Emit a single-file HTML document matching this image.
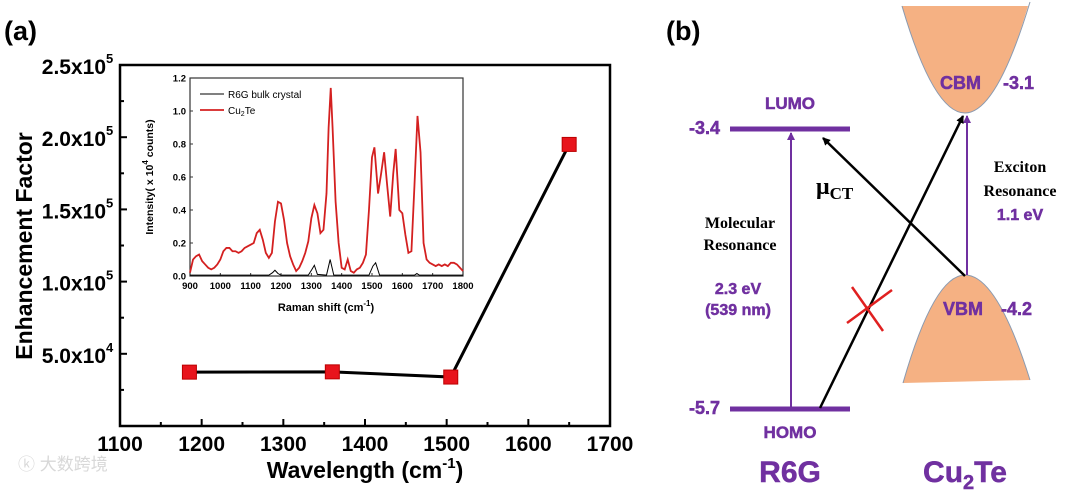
<!DOCTYPE html>
<html><head><meta charset="utf-8"><style>
html,body{margin:0;padding:0;background:#fff;}
svg{display:block;font-family:"Liberation Sans",Arial,sans-serif;}
</style></head><body>
<svg id="fig" width="1080" height="490" viewBox="0 0 1080 490" xmlns="http://www.w3.org/2000/svg">
<text x="4" y="40" font-size="27" font-weight="bold">(a)</text>
<text x="666" y="40" font-size="27" font-weight="bold">(b)</text>
<text x="18" y="470" font-size="17" fill="#d8d8d8" font-family="'Liberation Sans','Noto Sans CJK SC',sans-serif">ⓚ 大数跨境</text>
<g id="main"></g>
<g id="inset"></g>

<g>
  <defs>
    <marker id="ab" markerWidth="8" markerHeight="8" refX="7" refY="4" orient="auto" markerUnits="userSpaceOnUse"><path d="M0,0 L8,4 L0,8 z" fill="#000"/></marker>
    <marker id="ap" markerWidth="8" markerHeight="8" refX="7" refY="4" orient="auto" markerUnits="userSpaceOnUse"><path d="M0,0 L8,4 L0,8 z" fill="#7030a0"/></marker>
  </defs>
  <path d="M902,6 Q933.5,113 965,113 Q996.5,113 1028,6 Z" fill="#f5b183"/>
  <path d="M902,6 Q933.5,113 965,113 Q996.5,113 1030,2" fill="none" stroke="#8a9ab0" stroke-width="1"/>
  <path d="M903,383 Q934,275 965,275 Q997,275 1030,380 Z" fill="#f5b183"/>
  <path d="M903,383 Q934,275 965,275 Q997,275 1030,380" fill="none" stroke="#8a9ab0" stroke-width="1"/>
  <line x1="730" y1="129" x2="850" y2="129" stroke="#7030a0" stroke-width="5"/>
  <line x1="730" y1="409" x2="850" y2="409" stroke="#7030a0" stroke-width="5"/>
  <line x1="791" y1="407" x2="791" y2="133" stroke="#7030a0" stroke-width="2" marker-end="url(#ap)"/>
  <line x1="967" y1="275" x2="967" y2="116" stroke="#7030a0" stroke-width="2" marker-end="url(#ap)"/>
  <line x1="820" y1="408" x2="963" y2="116" stroke="#000" stroke-width="2.5" marker-end="url(#ab)"/>
  <line x1="965" y1="276" x2="823" y2="138" stroke="#000" stroke-width="2.5" marker-end="url(#ab)"/>
  <line x1="852" y1="287" x2="883" y2="331" stroke="#e02020" stroke-width="2.5"/>
  <line x1="847" y1="323" x2="892" y2="290" stroke="#e02020" stroke-width="2.5"/>
  <g fill="#7030a0" font-weight="bold" stroke="#7030a0" stroke-width="0.5">
    <text x="720" y="134" font-size="18" text-anchor="end">-3.4</text>
    <text x="720" y="414" font-size="18" text-anchor="end">-5.7</text>
    <text x="790" y="109" font-size="17" text-anchor="middle">LUMO</text>
    <text x="790" y="438" font-size="17" text-anchor="middle">HOMO</text>
    <text x="738" y="294" font-size="16" text-anchor="middle">2.3 eV</text>
    <text x="738" y="315" font-size="16" text-anchor="middle">(539 nm)</text>
    <text x="1020" y="220" font-size="16" text-anchor="middle">1.1 eV</text>
    <text x="940" y="89" font-size="18">CBM</text>
    <text x="1003" y="89" font-size="18">-3.1</text>
    <text x="943" y="315" font-size="18">VBM</text>
    <text x="1001" y="315" font-size="18">-4.2</text>
    <text x="790" y="482" font-size="30" text-anchor="middle">R6G</text>
    <text x="965" y="482" font-size="30" text-anchor="middle">Cu<tspan font-size="20" dy="7">2</tspan><tspan dy="-7">Te</tspan></text>
  </g>
  <g font-family="'Liberation Serif',serif" font-weight="bold" font-size="16" fill="#000">
    <text x="740" y="228" text-anchor="middle">Molecular</text>
    <text x="740" y="250" text-anchor="middle">Resonance</text>
    <text x="1020" y="172" text-anchor="middle">Exciton</text>
    <text x="1020" y="196" text-anchor="middle">Resonance</text>
    <text x="816" y="194" font-size="24">μ<tspan font-size="17" dy="5">CT</tspan></text>
  </g>
</g>
</svg>
<script>
// main chart data
const efWavenumbers = [1185, 1360, 1505, 1650];
const efValues = [37300, 37500, 33900, 195000];
const efYTicks = [0, 50000, 100000, 150000, 200000, 250000];
const efYTickLabels = ["", "5.0x10", "1.0x10", "1.5x10", "2.0x10", "2.5x10"];
const efYTickExp = ["", "4", "5", "5", "5", "5"];
const efXTicks = [1100, 1200, 1300, 1400, 1500, 1600, 1700];
// inset data
const ramanX = [900,910,920,930,940,950,960,970,980,990,1000,1010,1020,1030,1040,1050,1060,1070,1080,1090,1100,1110,1120,1130,1140,1150,1160,1170,1180,1190,1200,1210,1220,1230,1240,1250,1260,1270,1280,1290,1300,1310,1320,1330,1340,1350,1357,1364,1370,1380,1390,1400,1410,1420,1430,1440,1450,1460,1470,1480,1490,1500,1508,1520,1530,1540,1550,1560,1570,1578,1590,1600,1610,1620,1630,1640,1650,1660,1670,1680,1690,1700,1710,1720,1730,1740,1750,1760,1770,1780,1790,1800];
const cu2teY = [0.02,0.1,0.12,0.13,0.09,0.07,0.05,0.04,0.05,0.07,0.1,0.15,0.17,0.17,0.15,0.15,0.14,0.15,0.17,0.18,0.19,0.2,0.26,0.28,0.22,0.14,0.11,0.14,0.33,0.45,0.44,0.34,0.2,0.12,0.07,0.03,0.05,0.09,0.14,0.21,0.35,0.43,0.38,0.26,0.28,0.5,0.9,1.14,0.9,0.45,0.2,0.05,0.04,0.1,0.03,0.02,0.04,0.05,0.08,0.13,0.4,0.72,0.78,0.5,0.62,0.75,0.55,0.36,0.62,0.77,0.4,0.38,0.25,0.14,0.15,0.55,0.97,0.75,0.2,0.1,0.08,0.07,0.06,0.07,0.06,0.07,0.06,0.08,0.08,0.07,0.05,0.03];
const r6gX = [900,1160,1172,1180,1190,1200,1290,1302,1310,1320,1350,1362,1374,1490,1503,1512,1525,1640,1648,1656,1800];
const r6gY = [0.005,0.005,0.02,0.035,0.015,0.005,0.005,0.04,0.065,0.01,0.005,0.1,0.005,0.005,0.06,0.08,0.005,0.005,0.015,0.005,0.005];
const insetXTicks = [900,1000,1100,1200,1300,1400,1500,1600,1700,1800];
const insetYTicks = [0,0.2,0.4,0.6,0.8,1.0,1.2];

const NS = "http://www.w3.org/2000/svg";
function mk(parent, tag, attrs, text){const e=document.createElementNS(NS,tag);for(const k in attrs)e.setAttribute(k,attrs[k]);if(text!==undefined)e.textContent=text;parent.appendChild(e);return e;}

// main axes
const M={l:120,r:610,t:65,b:426};
const mx=v=>M.l+(v-1100)/600*(M.r-M.l);
const my=v=>M.b-v/250000*(M.b-M.t);
const main=document.getElementById('main');
let fr=mk(main,'rect',{x:M.l,y:M.t,width:M.r-M.l,height:M.b-M.t,fill:'none',stroke:'#000','stroke-width':2.5});


efYTicks.forEach((v,i)=>{
  mk(main,'line',{x1:M.l,y1:my(v),x2:M.l+7,y2:my(v),stroke:'#000','stroke-width':2});
  if(i<efYTicks.length-1){const mv=v+25000;mk(main,'line',{x1:M.l,y1:my(mv),x2:M.l+4,y2:my(mv),stroke:'#000','stroke-width':2});}
  if(efYTickLabels[i]){
    const t=mk(main,'text',{x:M.l-14,y:my(v)+9,'font-size':21,'font-weight':'bold','text-anchor':'end'});
    
    
    t.textContent=efYTickLabels[i];
    mk(main,'text',{x:M.l-14,y:my(v)-2,'font-size':13,'font-weight':'bold'},efYTickExp[i]);
  }
});
efXTicks.forEach((v,i)=>{
  mk(main,'line',{x1:mx(v),y1:M.b,x2:mx(v),y2:M.b-7,stroke:'#000','stroke-width':2});
  if(i<efXTicks.length-1)mk(main,'line',{x1:mx(v+50),y1:M.b,x2:mx(v+50),y2:M.b-4,stroke:'#000','stroke-width':2});
  const t=mk(main,'text',{x:mx(v),y:451,'font-size':21,'font-weight':'bold','text-anchor':'middle'},String(v));
  
  
});
let xt=mk(main,'text',{x:365,y:478,'font-size':23,'font-weight':'bold','text-anchor':'middle'});
xt.innerHTML='Wavelength (cm<tspan font-size="15" dy="-10">-1</tspan><tspan dy="10">)</tspan>';


let yt=mk(main,'text',{x:0,y:0,'font-size':23,'font-weight':'bold','text-anchor':'middle',transform:'translate(32,246) rotate(-90)'},'Enhancement Factor');


let pl=mk(main,'polyline',{points:efWavenumbers.map((x,i)=>mx(x)+','+my(efValues[i])).join(' '),fill:'none',stroke:'#000','stroke-width':3});


efWavenumbers.forEach((x,i)=>{
  const r=mk(main,'rect',{x:mx(x)-7,y:my(efValues[i])-7,width:14,height:14,fill:'#e8141c',stroke:'#b00','stroke-width':1});
  
  
});

// inset
const I={l:190,r:463,t:78,b:276};
const ix=v=>I.l+(v-900)/900*(I.r-I.l);
const iy=v=>I.b-v/1.2*(I.b-I.t);
const ins=document.getElementById('inset');
let ifr=mk(ins,'rect',{x:I.l,y:I.t,width:I.r-I.l,height:I.b-I.t,fill:'#fff',stroke:'#333','stroke-width':1.2});


insetYTicks.forEach(v=>{
  mk(ins,'line',{x1:I.l,y1:iy(v),x2:I.l+3,y2:iy(v),stroke:'#333'});
  const t=mk(ins,'text',{x:I.l-4,y:iy(v)+3.5,'font-size':9.5,'font-weight':'bold','text-anchor':'end'},v.toFixed(1));
  
  
});
insetXTicks.forEach(v=>{
  mk(ins,'line',{x1:ix(v),y1:I.b,x2:ix(v),y2:I.b-3,stroke:'#333'});
  const t=mk(ins,'text',{x:ix(v),y:I.b+13,'font-size':9.5,'font-weight':'bold','text-anchor':'middle'},String(v));
  
  
});
let ixt=mk(ins,'text',{x:326,y:311,'font-size':11,'font-weight':'bold','text-anchor':'middle'});
ixt.innerHTML='Raman shift (cm<tspan font-size="8" dy="-5">-1</tspan><tspan dy="5">)</tspan>';


let iyt=mk(ins,'text',{x:0,y:0,'font-size':10.5,'font-weight':'bold','text-anchor':'middle',transform:'translate(153,177) rotate(-90)'});
iyt.innerHTML='Intensity( x 10<tspan font-size="8" dy="-5">4</tspan><tspan dy="5"> counts)</tspan>';


let red=mk(ins,'polyline',{points:ramanX.map((x,i)=>ix(x)+','+iy(cu2teY[i])).join(' '),fill:'none',stroke:'#d42020','stroke-width':1.8});


let blk=mk(ins,'polyline',{points:r6gX.map((x,i)=>ix(x)+','+iy(r6gY[i])).join(' '),fill:'none',stroke:'#000','stroke-width':1});


mk(ins,'line',{x1:200,y1:94,x2:224,y2:94,stroke:'#000','stroke-width':1});
let l1=mk(ins,'text',{x:228,y:98,'font-size':10},'R6G bulk crystal');


mk(ins,'line',{x1:200,y1:110,x2:224,y2:110,stroke:'#d42020','stroke-width':1.8});
let l2=mk(ins,'text',{x:228,y:114,'font-size':10});
l2.innerHTML='Cu<tspan font-size="7" dy="2">2</tspan><tspan dy="-2">Te</tspan>';


</script>
</body></html>
